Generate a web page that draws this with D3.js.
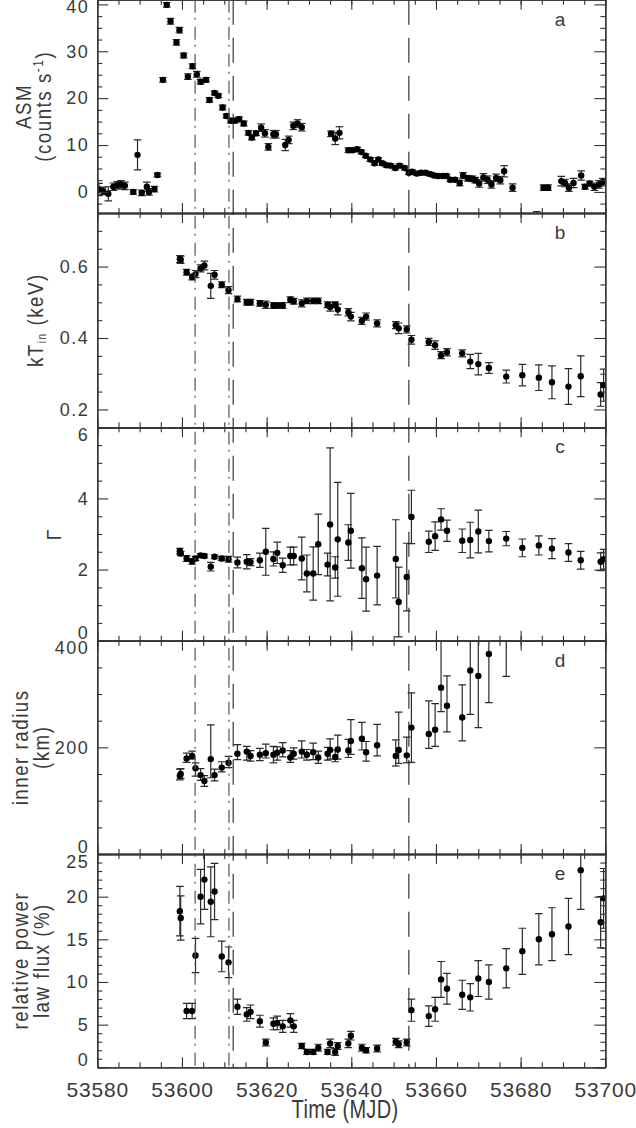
<!DOCTYPE html>
<html><head><meta charset="utf-8">
<script src="https://cdn.jsdelivr.net/npm/d3@7"></script>
<style>
html,body{margin:0;padding:0;background:#fff;}
svg{display:block;}
</style></head><body>
<svg id="chart" width="636" height="1128"></svg>
<script>
// ---------- DATA ----------
// Panel a: RXTE/ASM light curve
const asmTime = [53580.4,53581.4,53582.6,53583.8,53584.7,53585.6,53586.5,53588.5,53589.5,53590.5,
 53591.7,53592.2,53593.5,53594.2,53595.5,53596.4,53597.3,53598.7,53599.4,53600.4,
 53601.4,53602.5,53603.5,53604.4,53605.7,53606.5,53607.7,53608.6,53609.6,53610.5,
 53611.5,53612.5,53613.5,53614.6,53615.7,53616.5,53617.5,53618.7,53619.6,53620.4,
 53621.6,53622.2,53624.4,53625.2,53626.3,53627.3,53628.3,53635.2,53636.2,53637.2,
 53639.3,53640.3,53641.4,53642.4,53643.4,53644.5,53645.5,53646.4,53647.3,53648.3,
 53649.3,53650.4,53651.4,53652.6,53653.6,53654.4,53655.5,53656.5,53657.5,53658.6,
 53659.6,53660.5,53661.6,53662.5,53663.4,53664.5,53665.6,53666.4,53667.5,53668.6,
 53669.3,53670.2,53671.2,53672.2,53673.1,53674.2,53675.2,53676.1,53678.1,53683.8,
 53685.4,53686.5,53689.6,53690.5,53691.4,53692.5,53694.3,53695.2,53696.3,53697.4,
 53698.5,53699.4];
const asmRate = [0.5,0.2,-0.4,1.1,1.4,1.6,1.3,0.0,7.9,-0.2,
 1.1,0.0,0.6,3.6,23.9,39.9,36.4,31.9,34.5,29.1,
 24.6,26.8,25.1,23.5,23.9,19.6,21.1,20.5,18.0,16.2,
 15.2,15.2,15.5,14.6,12.6,11.6,12.5,13.7,12.5,9.6,
 12.3,12.3,10.0,11.1,14.1,14.6,13.8,12.4,11.4,12.6,
 8.9,8.9,9.1,8.5,7.7,6.9,6.1,6.9,6.1,5.7,
 5.6,5.1,5.6,5.1,4.1,4.3,3.9,4.1,4.1,3.8,
 3.5,3.4,3.4,3.4,2.6,2.6,1.9,3.5,2.9,2.8,
 2.5,1.8,3.1,2.6,1.6,3.0,2.5,4.4,0.9,-5.9,
 0.9,0.9,2.3,1.9,0.9,1.9,3.5,1.1,1.8,1.1,
 1.6,2.1];
const asmErr = [1.3,0.8,1.5,0.8,0.8,0.8,0.8,0.5,3.2,0.6,
 1.0,0.7,0.6,0.4,0.5,0.5,0.6,0.6,0.6,0.5,
 0.6,0.5,0.6,0.5,0.5,0.5,0.4,0.4,0.5,0.4,
 0.5,0.5,0.5,0.5,0.5,0.5,0.5,0.8,0.8,0.7,
 0.8,0.8,1.2,0.8,0.8,0.8,0.8,0.6,1.3,1.3,
 0.5,0.4,0.4,0.4,0.4,0.4,0.4,0.4,0.4,0.4,
 0.4,0.4,0.4,0.4,0.4,0.4,0.4,0.4,0.4,0.4,
 0.4,0.4,0.4,0.4,0.4,0.4,0.6,0.6,0.6,0.6,
 0.6,0.8,0.8,0.8,0.8,0.8,0.8,1.2,0.8,1.7,
 0.6,0.6,1.0,0.8,0.8,1.0,1.0,0.5,0.5,0.8,
 0.8,0.8];

// Panels b-e: spectral fit epochs
const specTime = [53599.5,53599.7,53601.1,53602.4,53603.2,53604.4,53605.3,53606.8,53607.7,53609.4,
 53611.0,53613.1,53615.3,53616.2,53618.4,53619.8,53621.6,53622.5,53623.8,53625.6,
 53626.4,53628.3,53629.5,53631.0,53632.2,53634.4,53635.0,53636.2,53636.8,53639.3,
 53639.9,53642.5,53643.5,53646.1,53650.5,53651.2,53653.1,53654.2,53658.3,53659.8,
 53661.2,53662.6,53666.2,53668.1,53670.0,53672.5,53676.6,53680.4,53684.3,53687.4,
 53691.3,53694.2,53698.9,53699.6];
// b: inner disk temperature (keV)
const kTin = [0.621,0.619,0.584,0.571,0.579,0.595,0.603,0.546,0.577,0.549,
 0.534,0.509,0.500,0.500,0.497,0.493,0.491,0.491,0.491,0.507,
 0.503,0.497,0.504,0.504,0.504,0.493,0.487,0.493,0.480,0.472,
 0.460,0.448,0.460,0.441,0.436,0.427,0.424,0.395,0.389,0.380,
 0.352,0.360,0.357,0.334,0.327,0.316,0.292,0.296,0.289,0.276,
 0.264,0.293,0.242,0.268];
const kTinErr = [0.010,0.010,0.008,0.008,0.010,0.010,0.012,0.035,0.012,0.008,
 0.010,0.008,0.008,0.008,0.008,0.010,0.008,0.008,0.008,0.008,
 0.008,0.010,0.008,0.008,0.008,0.008,0.012,0.008,0.015,0.010,
 0.012,0.010,0.010,0.010,0.010,0.015,0.010,0.012,0.010,0.012,
 0.010,0.010,0.010,0.020,0.030,0.015,0.018,0.030,0.036,0.046,
 0.050,0.057,0.033,0.045];
// c: photon index
const gammaIdx = [2.52,2.45,2.31,2.23,2.31,2.40,2.38,2.08,2.36,2.31,
 2.29,2.20,2.22,2.21,2.26,2.50,2.30,2.47,2.12,2.38,
 2.38,2.31,1.89,1.89,2.71,2.14,3.27,2.06,2.85,2.76,
 3.09,2.04,1.73,1.83,2.30,1.09,1.79,3.48,2.78,2.94,
 3.41,3.09,2.81,2.83,3.07,2.80,2.87,2.61,2.68,2.59,
 2.48,2.26,2.22,2.29];
const gammaErr = [0.08,0.06,0.08,0.08,0.06,0.05,0.05,0.12,0.05,0.06,
 0.08,0.15,0.20,0.10,0.20,0.66,0.20,0.30,0.20,0.25,
 0.25,0.60,0.52,0.75,0.85,0.32,2.15,0.30,1.60,0.50,
 1.05,0.85,0.90,0.82,1.10,0.98,0.95,0.75,0.30,0.40,
 0.30,0.30,0.33,0.50,0.60,0.30,0.20,0.25,0.27,0.28,
 0.25,0.25,0.25,0.28];
// d: inner radius (km), asymmetric errors
const radius = [147,150,179,184,161,148,137,178,148,162,
 171,188,192,184,186,189,186,190,194,181,
 188,192,186,191,181,188,195,182,196,194,
 212,216,191,204,184,195,185,237,225,233,
 312,278,256,344,334,375,430,null,null,null,
 null,null,null,null];
const radiusErrLo = [8,8,7,6,15,10,10,35,11,8,
 9,11,16,10,11,9,15,14,12,9,
 10,12,10,14,11,12,17,9,18,13,
 25,21,17,20,19,25,14,65,27,31,
 45,49,44,82,97,91,97,0,0,0,
 0,0,0,0];
const radiusErrHi = [12,10,10,9,10,12,10,64,11,11,
 12,17,10,10,12,17,16,11,15,13,
 11,20,10,17,12,12,21,13,27,21,
 40,31,20,39,30,71,34,65,62,49,
 100,56,61,70,80,80,80,0,0,0,
 0,0,0,0];
// e: relative power-law flux (%)
const plFrac = [18.3,17.5,6.6,6.6,13.1,20.0,22.0,19.4,20.6,13.0,
 12.3,7.1,6.2,6.5,5.4,2.9,5.1,5.2,4.8,5.5,
 4.8,2.5,1.8,1.8,2.3,1.8,2.8,1.8,2.5,2.8,
 3.7,2.3,2.0,2.2,3.0,2.7,2.9,6.7,6.0,6.8,
 10.3,9.2,8.5,8.2,10.4,10.0,11.6,13.6,15.0,15.6,
 16.5,23.1,17.0,19.8];
const plFracErr = [2.9,2.6,0.9,0.9,2.0,3.2,3.5,4.1,3.3,1.8,
 1.8,0.9,0.8,0.8,0.7,0.4,0.7,0.8,0.7,0.8,
 0.7,0.3,0.3,0.3,0.4,0.3,0.5,0.4,0.4,0.5,
 0.5,0.4,0.3,0.4,0.4,0.4,0.4,1.3,1.2,1.4,
 2.1,1.8,1.7,1.6,2.1,2.0,2.3,2.7,3.0,3.1,
 3.3,4.6,3.0,3.5];

// reference epochs (vertical lines)
const dashDotTimes = [53603.1, 53611.1];
const dashTimes = [53612.1, 53653.6];

// ticks
const xTicks = [53580, 53600, 53620, 53640, 53660, 53680, 53700];
const xMinorStep = 5;
const aTicks = [0, 10, 20, 30, 40];
const bTicks = [0.2, 0.4, 0.6];
const cTicks = [0, 2, 4, 6];
const dTicks = [0, 200, 400];
const eTicks = [0, 5, 10, 15, 20, 25];
const panelLetters = ["a", "b", "c", "d", "e"];

// ---------- LAYOUT ----------
const L = 97.3, R = 605.3;
const FONT = "'Liberation Sans', Arial, Helvetica, sans-serif";
const TXT = "#3a3a3a";
const svg = d3.select("#chart");
const x = d3.scaleLinear().domain([53580, 53700]).range([L, R]);

const panels = [
  {top: -0.3, bottom: 213.0, domain: [-4.5, 41], ticks: aTicks, minor: 2.5, fmt: d3.format("d"),
   t: asmTime, v: asmRate, lo: asmErr, hi: asmErr},
  {top: 213.0, bottom: 427.3, domain: [0.15, 0.75], ticks: bTicks, minor: 0.05, fmt: d3.format(".1f"),
   t: specTime, v: kTin, lo: kTinErr, hi: kTinErr},
  {top: 427.3, bottom: 640.7, domain: [0, 6], ticks: cTicks, minor: 0.5, fmt: d3.format("d"),
   t: specTime, v: gammaIdx, lo: gammaErr, hi: gammaErr},
  {top: 640.7, bottom: 854.0, domain: [0, 400], ticks: dTicks, minor: 50, fmt: d3.format("d"),
   t: specTime, v: radius, lo: radiusErrLo, hi: radiusErrHi},
  {top: 854.0, bottom: 1067.3, domain: [0, 25], ticks: eTicks, minor: 1, fmt: d3.format("d"),
   t: specTime, v: plFrac, lo: plFracErr, hi: plFracErr}
];

const xMinor = d3.range(53580, 53700.01, xMinorStep);

function styleAxis(g) {
  g.select(".domain").attr("stroke", "#333").attr("stroke-width", 1.3);
  g.selectAll(".tick line").attr("stroke", "#333").attr("stroke-width", 1.1);
}

panels.forEach((p, pi) => {
  const y = d3.scaleLinear().domain(p.domain).range([p.bottom, p.top]);
  const g = svg.append("g");
  const clipId = "clip" + pi;
  svg.append("clipPath").attr("id", clipId).append("rect")
    .attr("x", L).attr("y", p.top).attr("width", R - L).attr("height", p.bottom - p.top);

  const marks = g.append("g").attr("clip-path", `url(#${clipId})`);
  const data = p.t.map((t, i) => ({t, v: p.v[i], lo: p.lo[i], hi: p.hi[i]})).filter(d => d.v !== null);

  const eb = marks.selectAll("g.eb").data(data).join("g").attr("class", "eb")
    .attr("stroke", "#2a2a2a").attr("stroke-width", 1.2).attr("fill", "none");
  eb.append("line")
    .attr("x1", d => x(d.t)).attr("x2", d => x(d.t))
    .attr("y1", d => y(d.v - d.lo)).attr("y2", d => y(d.v + d.hi));
  eb.append("line")
    .attr("x1", d => x(d.t) - 3.8).attr("x2", d => x(d.t) + 3.8)
    .attr("y1", d => y(d.v - d.lo)).attr("y2", d => y(d.v - d.lo));
  eb.append("line")
    .attr("x1", d => x(d.t) - 3.8).attr("x2", d => x(d.t) + 3.8)
    .attr("y1", d => y(d.v + d.hi)).attr("y2", d => y(d.v + d.hi));

  marks.selectAll("circle").data(data).join("circle")
    .attr("cx", d => x(d.t)).attr("cy", d => y(d.v)).attr("r", 3.2).attr("fill", "#000");

  // minor ticks in y
  const [d0, d1] = p.domain;
  const yMinor = d3.range(Math.ceil(d0 / p.minor) * p.minor, d1 + 1e-9, p.minor)
    .filter(v => !p.ticks.some(t => Math.abs(t - v) < 1e-9));

  // left axis (major, labelled)
  const gl = g.append("g").attr("transform", `translate(${L},0)`)
    .call(d3.axisLeft(y).tickValues(p.ticks).tickSize(-11).tickSizeOuter(0).tickPadding(8).tickFormat(p.fmt));
  styleAxis(gl);
  gl.selectAll("text").attr("font-family", FONT).attr("font-size", 18).attr("fill", TXT)
    .attr("letter-spacing", "1.5px");
  gl.selectAll(".tick").each(function(d) {
    const yy = y(d);
    let s = 0;
    if (yy < p.top + 7.5) s = p.top + 7.5 - yy;
    if (yy > p.bottom - 7.5) s = p.bottom - 7.5 - yy;
    d3.select(this).select("text").attr("y", s);
  });
  const glm = g.append("g").attr("transform", `translate(${L},0)`)
    .call(d3.axisLeft(y).tickValues(yMinor).tickSize(-5).tickSizeOuter(0).tickFormat(""));
  styleAxis(glm);

  // right axis
  const gr = g.append("g").attr("transform", `translate(${R},0)`)
    .call(d3.axisRight(y).tickValues(p.ticks).tickSize(-11).tickSizeOuter(0).tickFormat(""));
  styleAxis(gr);
  const grm = g.append("g").attr("transform", `translate(${R},0)`)
    .call(d3.axisRight(y).tickValues(yMinor).tickSize(-5).tickSizeOuter(0).tickFormat(""));
  styleAxis(grm);

  // top axis
  const gt = g.append("g").attr("transform", `translate(0,${p.top})`)
    .call(d3.axisTop(x).tickValues(xTicks).tickSize(-10).tickSizeOuter(0).tickFormat(""));
  styleAxis(gt);
  const gtm = g.append("g").attr("transform", `translate(0,${p.top})`)
    .call(d3.axisTop(x).tickValues(xMinor).tickSize(-5).tickSizeOuter(0).tickFormat(""));
  styleAxis(gtm);

  // bottom axis
  const last = pi === panels.length - 1;
  const gb = g.append("g").attr("transform", `translate(0,${p.bottom})`)
    .call(d3.axisBottom(x).tickValues(xTicks).tickSize(-10).tickSizeOuter(0).tickPadding(15)
      .tickFormat(last ? d3.format("d") : ""));
  styleAxis(gb);
  gb.selectAll("text").attr("font-family", FONT).attr("font-size", 21).attr("fill", TXT)
    .attr("letter-spacing", "0.8px");
  const gbm = g.append("g").attr("transform", `translate(0,${p.bottom})`)
    .call(d3.axisBottom(x).tickValues(xMinor).tickSize(-5).tickSizeOuter(0).tickFormat(""));
  styleAxis(gbm);

  // panel letter
  g.append("text").attr("x", 560).attr("y", p.top + 26).attr("text-anchor", "middle")
    .attr("font-family", FONT).attr("font-size", 19).attr("fill", TXT)
    .text(panelLetters[pi]);
});

// vertical reference lines
const yTop = panels[0].top, yBot = panels[panels.length - 1].bottom;
svg.append("g").selectAll("line").data(dashDotTimes).join("line")
  .attr("x1", d => x(d)).attr("x2", d => x(d)).attr("y1", yTop).attr("y2", yBot)
  .attr("stroke", "#555").attr("stroke-width", 1.2).attr("stroke-dasharray", "13,5,2,7");
svg.append("g").selectAll("line").data(dashTimes).join("line")
  .attr("x1", d => x(d)).attr("x2", d => x(d)).attr("y1", yTop).attr("y2", yBot)
  .attr("stroke", "#222").attr("stroke-width", 1.1).attr("stroke-dasharray", "25,13");

// y titles (IDL-like narrow lettering: scaled along the text direction)
function vtext(xp, yp, size, sx) {
  return svg.append("text")
    .attr("transform", `translate(${xp},${yp}) rotate(-90) scale(${sx},1)`)
    .attr("text-anchor", "middle").attr("font-family", FONT).attr("font-size", size)
    .attr("fill", TXT).attr("letter-spacing", "1.8px");
}
const midY = p => (p.top + p.bottom) / 2;
vtext(31, midY(panels[0]), 22, 0.85).text("ASM");
{
  const t = vtext(51, midY(panels[0]), 22, 0.85);
  t.append("tspan").text("(counts s");
  t.append("tspan").attr("font-size", 14).attr("dy", -8).text("-1");
  t.append("tspan").attr("dy", 8).text(")");
}
{
  const t = vtext(43, midY(panels[1]), 22, 0.85);
  t.append("tspan").text("kT");
  t.append("tspan").attr("font-size", 12).attr("dy", 3).text("in");
  t.append("tspan").attr("dy", -3).text(" (keV)");
}
vtext(60.5, midY(panels[2]), 20, 1).text("Γ");
vtext(28, midY(panels[3]), 22, 0.85).text("inner radius");
vtext(49, midY(panels[3]), 22, 0.85).text("(km)");
vtext(28, midY(panels[4]), 22, 0.85).text("relative power");
vtext(49, midY(panels[4]), 22, 0.85).text("law flux (%)");

// x title
svg.append("text").attr("transform", "translate(345,1118) scale(0.8,1)")
  .attr("text-anchor", "middle")
  .attr("font-family", FONT).attr("font-size", 25).attr("fill", TXT).attr("letter-spacing", "0.4px")
  .text("Time (MJD)");
</script>
</body></html>
